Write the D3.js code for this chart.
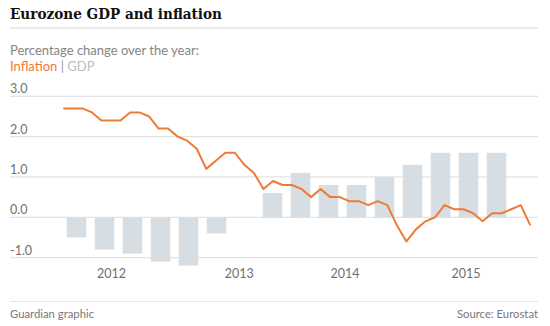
<!DOCTYPE html>
<html>
<head>
<meta charset="utf-8">
<script src="https://cdn.jsdelivr.net/npm/d3@7"></script>
<style>
  body { margin: 0; background: #fff; }
  svg { display: block; }
  .sans { font-family: Lato, "Open Sans", sans-serif; }
</style>
</head>
<body>
<div id="chart"></div>
<script>
// monthly inflation, Jan 2012 .. Feb 2016 (%, year on year)
var inflation = [2.7, 2.7, 2.7, 2.6, 2.4, 2.4, 2.4, 2.6, 2.6, 2.5, 2.2, 2.2,
    2.0, 1.9, 1.7, 1.2, 1.4, 1.6, 1.6, 1.3, 1.1, 0.7, 0.9, 0.8,
    0.8, 0.7, 0.5, 0.7, 0.5, 0.5, 0.4, 0.4, 0.3, 0.4, 0.3, -0.2,
    -0.6, -0.3, -0.1, 0.0, 0.3, 0.2, 0.2, 0.1, -0.1, 0.1, 0.1, 0.2,
    0.3, -0.2];

// quarterly GDP, Q1 2012 .. Q4 2015 (%, year on year)
var gdp = [-0.5, -0.8, -0.9, -1.1, -1.2, -0.4, 0.0, 0.6,
    1.1, 0.8, 0.8, 1.0, 1.3, 1.6, 1.6, 1.6];

var yTicks = [-1, 0, 1, 2, 3];
// year labels, placed by month index
var yearLabels = ['2012', '2013', '2014', '2015'];
var yearPos = [5.0, 18.4, 29.5, 42.2];

var W = 550, H = 326;
var left = 10, right = 538;

var svg = d3.select('#chart').append('svg')
    .attr('width', W)
    .attr('height', H);

// heading
svg.append('text')
    .attr('x', left).attr('y', 19)
    .attr('textLength', 212).attr('lengthAdjust', 'spacingAndGlyphs')
    .style('font-family', '"DejaVu Serif", serif')
    .style('font-weight', 'bold')
    .style('font-size', '15px')
    .style('fill', '#111')
    .text('Eurozone GDP and inflation');

svg.append('line')
    .attr('x1', left).attr('x2', right)
    .attr('y1', 28).attr('y2', 28)
    .style('stroke', '#e6e6e6').style('stroke-width', 1.5);

svg.append('text').attr('class', 'sans')
    .attr('x', left).attr('y', 55)
    .style('font-size', '13px').style('fill', '#858585')
    .text('Percentage change over the year:');

var key = svg.append('text').attr('class', 'sans')
    .attr('x', left).attr('y', 71)
    .style('font-size', '13px');
key.append('tspan').style('fill', '#ef7a35').text('Inflation');
key.append('tspan').style('fill', '#9a9a9a').text(' | ');
key.append('tspan').style('fill', '#bdbdbd').text('GDP');

// scales
var y = d3.scaleLinear().domain([-1, 3]).range([257.6, 96.3]);
var x = d3.scaleLinear().domain([0, inflation.length - 1]).range([63.3, 530.3]);
var xBar = d3.scaleBand().domain(d3.range(gdp.length)).range([62.5, 510.5])
    .paddingInner(0.3).paddingOuter(0.15);

// gridlines and value labels
var grid = svg.append('g').attr('class', 'grid');
grid.selectAll('line').data(yTicks).enter().append('line')
    .attr('x1', left).attr('x2', right)
    .attr('y1', function(d) { return y(d); })
    .attr('y2', function(d) { return y(d); })
    .style('stroke', '#e3e3e3').style('stroke-width', 1.2);

grid.selectAll('text').data(yTicks).enter().append('text')
    .attr('class', 'sans')
    .attr('x', left)
    .attr('y', function(d) { return y(d) - 3; })
    .style('font-size', '12.5px').style('fill', '#707070')
    .text(function(d) { return d.toFixed(1); });

// GDP bars
svg.append('g').attr('class', 'bars')
    .selectAll('rect').data(gdp).enter().append('rect')
    .attr('x', function(d, i) { return xBar(i); })
    .attr('width', xBar.bandwidth())
    .attr('y', function(d) { return y(Math.max(0, d)); })
    .attr('height', function(d) { return Math.abs(y(d) - y(0)); })
    .style('fill', '#d6dee4');

// inflation line
var line = d3.line()
    .x(function(d, i) { return x(i); })
    .y(function(d) { return y(d); });

svg.append('path')
    .datum(inflation)
    .attr('d', line)
    .attr('fill', 'none')
    .attr('stroke', '#ef7a35')
    .attr('stroke-width', 2)
    .attr('stroke-linejoin', 'round');

// year axis
var xAxis = d3.axisBottom(x)
    .tickValues(yearPos)
    .tickSize(0)
    .tickPadding(0)
    .tickFormat(function(d, i) { return yearLabels[i]; });

var gx = svg.append('g').attr('transform', 'translate(0,269)').call(xAxis);
gx.select('.domain').remove();
gx.selectAll('text')
    .attr('class', 'sans')
    .style('font-size', '12.5px')
    .style('fill', '#707070');

// footer
svg.append('line')
    .attr('x1', left).attr('x2', right)
    .attr('y1', 301.5).attr('y2', 301.5)
    .style('stroke', '#e6e6e6').style('stroke-width', 1.2);

svg.append('text').attr('class', 'sans')
    .attr('x', left).attr('y', 318)
    .style('font-size', '11.3px').style('fill', '#777')
    .text('Guardian graphic');

svg.append('text').attr('class', 'sans')
    .attr('x', right).attr('y', 318)
    .attr('text-anchor', 'end')
    .style('font-size', '11.3px').style('fill', '#777')
    .text('Source: Eurostat');
</script>
</body>
</html>
